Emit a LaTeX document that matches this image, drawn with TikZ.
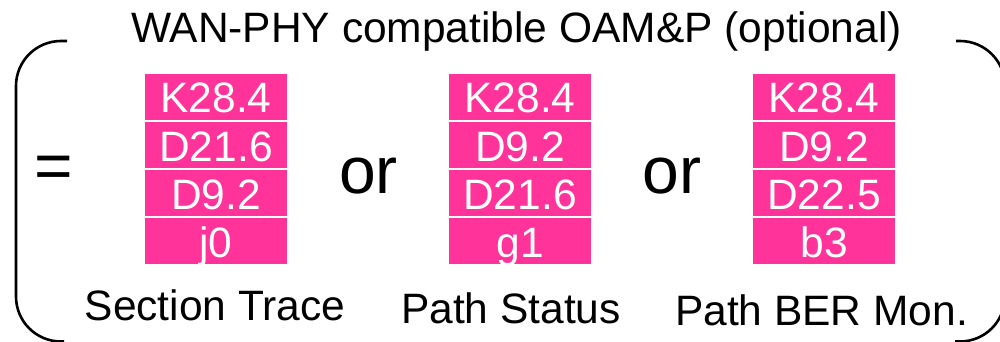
\documentclass[tikz,border=0pt]{standalone}
\usepackage{fontspec}
\setmainfont{Liberation Sans}
\definecolor{cellpink}{RGB}{255,51,153}
\begin{document}
\begin{tikzpicture}[x=1pt,y=-1pt,
  cell/.style={fill=cellpink,text=white,inner sep=0pt,
    minimum width=142pt,minimum height=46pt,
    font=\fontsize{42.5}{48}\selectfont,text height=32pt,text depth=0pt},
  label/.style={anchor=base,inner sep=0pt,font=\fontsize{42.5}{48}\selectfont},
  bigword/.style={anchor=base,inner sep=0pt,font=\fontsize{66}{72}\selectfont},
  bracket/.style={line width=2.6pt,rounded corners=45pt}]
\useasboundingbox (0,0) rectangle (1000,342);
\clip (0,0) rectangle (1000,342);

% enclosing brackets, open at top for the title
\draw[bracket] (67,41) -- (16,41) -- (16,341.5) -- (64,341.5);
\draw[bracket] (956,41) -- (1005,41) -- (1005,341.5) -- (955,341.5);

\node[label] (title) at (516.5,43) {WAN-PHY compatible OAM\&P (optional)};

\node[bigword,anchor=center] (eq) at (53.5,172) {=};
\node[bigword] (or1) at (368.5,193) {or};
\node[bigword] (or2) at (672,193) {or};

% Section Trace
\node[cell] (a1) at (216,97) {K28.4};
\node[cell] (a2) at (216,145) {D21.6};
\node[cell] (a3) at (216,193) {D9.2};
\node[cell] (a4) at (216,241) {j0};
\node[label] (la) at (215,320) {Section Trace};

% Path Status
\node[cell] (b1) at (520,97) {K28.4};
\node[cell] (b2) at (520,145) {D9.2};
\node[cell] (b3) at (520,193) {D21.6};
\node[cell] (b4) at (520,241) {g1};
\node[label] (lb) at (511,323) {Path Status};

% Path BER Monitoring
\node[cell] (c1) at (824,97) {K28.4};
\node[cell] (c2) at (824,145) {D9.2};
\node[cell] (c3) at (824,193) {D22.5};
\node[cell] (c4) at (824,241) {b3};
\node[label] (lc) at (821.5,325) {Path BER Mon.};
\end{tikzpicture}
\end{document}
